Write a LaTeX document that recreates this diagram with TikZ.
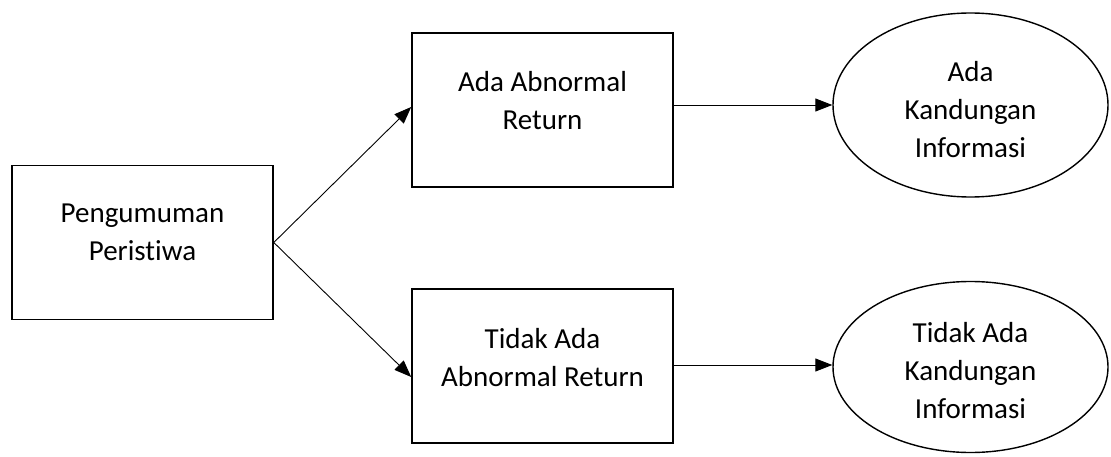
\documentclass[tikz,border=0pt]{standalone}
\usepackage{fontspec}
\setmainfont{Carlito}[Ligatures={NoCommon}]
\usetikzlibrary{arrows.meta,shapes.geometric}

\tikzset{
  box/.style={draw, line width=1.6pt, minimum width=261pt, minimum height=154pt, inner sep=0pt},
  oval/.style={draw, ellipse, line width=1.4pt, inner sep=0pt},
  label text/.style={align=center, font=\fontsize{29}{38}\selectfont},
  flow/.style={line width=0.9pt, -{Triangle[length=17pt,width=13pt]}},
}

\begin{document}
\begin{tikzpicture}[x=1pt,y=-1pt]
  \useasboundingbox (0,0) rectangle (1111,457);

  % boxes
  \node[box] (peng) at (142.5,242.5) {};
  \node[box] (ada)  at (542.5,110) {};
  \node[box] (tidak) at (542.5,366) {};

  % ellipses
  \node[oval, minimum width=275pt, minimum height=184pt] (info) at (970.5,105) {};
  \node[oval, minimum width=275pt, minimum height=171pt] (noinfo) at (970.5,367) {};

  % texts
  \node[label text] (tpeng) at (142.5,232) {Pengumuman\\Peristiwa};
  \node[label text] (tada) at (542.5,101) {Ada Abnormal\\Return};
  \node[label text] (ttidak) at (542.5,358) {Tidak Ada\\Abnormal Return};
  \node[label text] (tinfo) at (970.5,110) {Ada\\Kandungan\\Informasi};
  \node[label text] (tnoinfo) at (970.5,371) {Tidak Ada\\Kandungan\\Informasi};

  % connectors
  \coordinate (adaIn) at ([yshift=3pt]ada.west);
  \coordinate (tidakIn) at ([yshift=-11pt]tidak.west);
  \draw[flow] (peng.east) -- (adaIn);
  \draw[flow] (peng.east) -- (tidakIn);
  \draw[flow] (ada.east |- info.west) -- (info.west);
  \draw[flow] (tidak.east |- 0,365) -- (noinfo.west |- 0,365);
\end{tikzpicture}
\end{document}
